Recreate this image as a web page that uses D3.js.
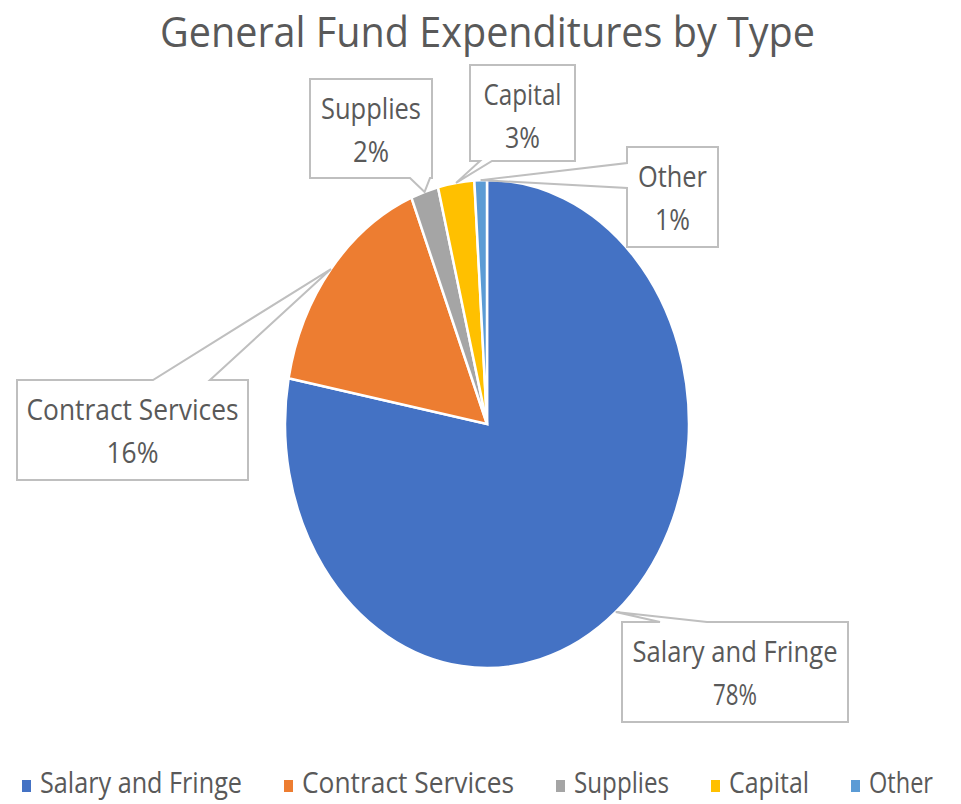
<!DOCTYPE html>
<html>
<head>
<meta charset="utf-8">
<script src="https://cdn.jsdelivr.net/npm/d3@7"></script>
<style>
  html, body { margin: 0; padding: 0; background: #fff; }
  svg { display: block; }
  text { font-family: "Open Sans", sans-serif; fill: #595959; }
</style>
</head>
<body>
<svg id="chart" width="961" height="804"></svg>
<script>
// ---- data ----
const categories = ["Salary and Fringe", "Contract Services", "Supplies", "Capital", "Other"];
const values = [78.0, 15.9, 2.2, 2.9, 1.0];
const colors = ["#4472C4", "#ED7D31", "#A5A5A5", "#FFC000", "#5B9BD5"];
const title = "General Fund Expenditures by Type";

// ---- layout ----
const W = 961, H = 804;
const cx = 487, cy = 424, ry = 244, rx = 202;

// callout boxes (screen coords), wedge side and base points
const callouts = [
  { x: 622, y: 622, w: 226, h: 100, side: "top", a: 660, b: 707, w1: 205, w2: 44 },
  { x: 17, y: 380, w: 231, h: 100, side: "top", a: 153, b: 210, w1: 212, w2: 52 },
  { x: 310, y: 79, w: 122, h: 99, side: "bottom", a: 410, b: 430, w1: 100, w2: 36 },
  { x: 470, y: 65, w: 105, h: 96, side: "bottom", a: 480, b: 492, w1: 78, w2: 35 },
  { x: 627, y: 147, w: 91, h: 100, side: "left", a: 163, b: 188, w1: 69, w2: 35 }
];
const legendTextW = [202, 212, 95, 80, 64];

const svg = d3.select("#chart");
svg.append("rect").attr("width", W).attr("height", H).attr("fill", "#fff");

// title
svg.append("text")
  .attr("x", 160).attr("y", 47)
  .attr("font-size", 42)
  .attr("textLength", 655).attr("lengthAdjust", "spacingAndGlyphs")
  .text(title);

// pie
const pie = d3.pie().sort(null).value(d => d)(values);
const arc = d3.arc().innerRadius(0).outerRadius(ry);
const g = svg.append("g").attr("transform", `translate(${cx},${cy}) scale(${rx / ry},1)`);
g.selectAll("path").data(pie).join("path")
  .attr("d", arc)
  .attr("fill", (d, i) => colors[i])
  .attr("stroke", "#fff")
  .attr("stroke-width", 2.5)
  .attr("vector-effect", "non-scaling-stroke");

// callouts
function calloutPath(c, tip) {
  const x0 = c.x, y0 = c.y, x1 = c.x + c.w, y1 = c.y + c.h;
  const p = d3.path();
  if (c.side === "top") {
    p.moveTo(x0, y0); p.lineTo(c.a, y0); p.lineTo(tip[0], tip[1]); p.lineTo(c.b, y0);
    p.lineTo(x1, y0); p.lineTo(x1, y1); p.lineTo(x0, y1); p.closePath();
  } else if (c.side === "bottom") {
    p.moveTo(x0, y0); p.lineTo(x1, y0); p.lineTo(x1, y1);
    p.lineTo(c.b, y1); p.lineTo(tip[0], tip[1]); p.lineTo(c.a, y1);
    p.lineTo(x0, y1); p.closePath();
  } else {
    p.moveTo(x0, y0); p.lineTo(x1, y0); p.lineTo(x1, y1); p.lineTo(x0, y1);
    p.lineTo(x0, c.b); p.lineTo(tip[0], tip[1]); p.lineTo(x0, c.a); p.closePath();
  }
  return p.toString();
}

pie.forEach((d, i) => {
  const c = callouts[i];
  const mid = (d.startAngle + d.endAngle) / 2;
  const tip = [cx + rx * Math.sin(mid), cy - ry * Math.cos(mid)];
  svg.append("path")
    .attr("d", calloutPath(c, tip))
    .attr("fill", "#fff")
    .attr("stroke", "#BFBFBF")
    .attr("stroke-width", 2)
    .attr("stroke-linejoin", "miter");
  const mx = c.x + c.w / 2;
  svg.append("text")
    .attr("x", mx - c.w1 / 2).attr("y", c.y + 40)
    .attr("font-size", 30)
    .attr("textLength", c.w1).attr("lengthAdjust", "spacingAndGlyphs")
    .text(categories[i]);
  svg.append("text")
    .attr("x", mx - c.w2 / 2).attr("y", c.y + 83)
    .attr("font-size", 30)
    .attr("textLength", c.w2).attr("lengthAdjust", "spacingAndGlyphs")
    .text(Math.round(values[i]) + "%");
});

// legend
let lx = 22;
const legend = svg.append("g");
categories.forEach((name, i) => {
  legend.append("rect")
    .attr("x", lx).attr("y", 780).attr("width", 9).attr("height", 12)
    .attr("fill", colors[i]);
  legend.append("text")
    .attr("x", lx + 18).attr("y", 793)
    .attr("font-size", 29)
    .attr("textLength", legendTextW[i]).attr("lengthAdjust", "spacingAndGlyphs")
    .text(name);
  lx += 18 + legendTextW[i] + 42;
});
</script>
</body>
</html>
